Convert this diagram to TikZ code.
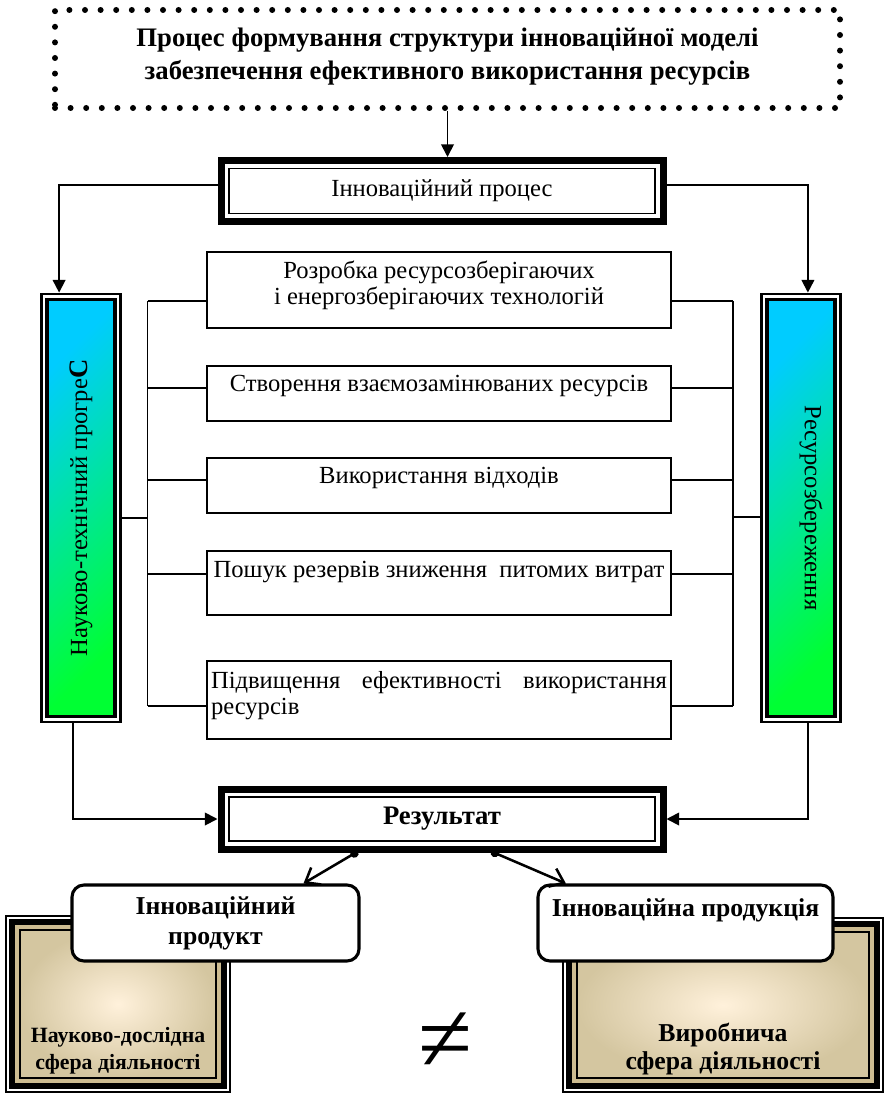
\documentclass[tikz,border=0pt]{standalone}
\usepackage{fontspec}
\setmainfont{Liberation Serif}
\usepackage{graphicx}
\usepackage{xcolor}
\usetikzlibrary{positioning,arrows.meta,fit}

\definecolor{ntpTop}{RGB}{0,204,255}
\definecolor{ntpBot}{RGB}{0,255,51}
\definecolor{sandIn}{RGB}{255,241,219}
\definecolor{sandOut}{RGB}{212,198,160}
\definecolor{sandBand}{RGB}{205,188,145}

\begin{document}
\begin{tikzpicture}[
>={Triangle[length=9pt,width=9pt]},
titlebox/.style={
draw,
line width=0.15cm,
line cap=round,
dash pattern=on 0pt off 0.39cm,
minimum width=19.625cm,
minimum height=2.45cm,
align=center,
font=\fontsize{19}{23.5}\selectfont\bfseries
},
framebox/.style={
draw,
line width=1pt,
fill=white,
outer sep=0pt,
minimum width=10.65cm,
align=center
},
heavyframe/.style={
draw,
line width=0.175cm,
inner sep=0.2cm
},
colbox/.style={
draw,
line width=2.2pt,
outer sep=0pt,
inner sep=0pt,
top color=ntpTop,
bottom color=ntpBot,
shading angle=45,
minimum width=1.7cm,
minimum height=10.425cm,
font=\fontsize{17.5}{18.5}\selectfont
},
colframe/.style={
draw,
line width=2pt,
inner sep=0.1375cm
},
midbox/.style={
draw,
line width=1pt,
fill=white,
minimum width=11.6cm,
inner ysep=2pt,
align=center,
font=\fontsize{17.5}{18.5}\selectfont
},
prodbox/.style={
draw,
line width=2.2pt,
rounded corners=0.3cm,
fill=white,
minimum height=1.9cm,
align=center,
font=\fontsize{18.3}{21.3}\selectfont\bfseries
},
sandbox/.style={
draw,
line width=1pt,
outer sep=0pt,
inner sep=0pt,
inner color=sandIn,
outer color=sandOut,
align=center
},
link/.style={line width=1.3pt},
arrow/.style={->,line width=1.3pt},
splitarrow/.style={
{Circle[length=6pt]}-{Straight Barb[length=9pt,width=14pt]},
line width=1.8pt
}
]

\useasboundingbox (0,0) rectangle (22.275,-27.375);

%---------------- Top ----------------%

\node[titlebox,text depth=7pt] (title) at (11.1875,-1.475)
{Процес формування структури інноваційної моделі\\
забезпечення ефективного використання ресурсів};

\node[framebox,minimum height=1.125cm,font=\fontsize{17.5}{18.5}\selectfont] (proc) at (11.05,-4.775)
{Інноваційний процес};
\node[heavyframe,fit=(proc)] (procf) {};

%---------------- Middle ----------------%

\node[colbox] (ntp) at (2.025,-12.7)
{\rotatebox{90}{Науково-технічний прогре{\fontsize{19}{19}\selectfont\bfseries С}}};
\node[colframe,fit=(ntp)] (ntpf) {};

\node[colbox] (rsb) at (20.025,-12.7)
{\hspace*{0.5cm}\rotatebox{-90}{Ресурсозбереження}};
\node[colframe,fit=(rsb)] (rsbf) {};

\node[midbox,minimum height=1.9cm,text depth=11pt] (b1) at (10.975,-7.25)
{Розробка ресурсозберігаючих\\і енергозберігаючих технологій};

\node[midbox,minimum height=1.375cm,text depth=14.5pt] (b2) at (10.975,-9.8375)
{Створення взаємозамінюваних ресурсів};

\node[midbox,minimum height=1.375cm,text depth=14.5pt] (b3) at (10.975,-12.1375)
{Використання відходів};

\node[midbox,minimum height=1.6cm,text depth=19.4pt] (b4) at (10.975,-14.575)
{Пошук резервів зниження \ питомих витрат};

\node[midbox,minimum height=1.95cm,text depth=28.7pt,align=justify,text width=11.4cm,inner xsep=0.1cm] (b5) at (10.975,-17.5)
{Підвищення ефективності використання ресурсів};

\coordinate (lbar) at (3.6875,0);
\coordinate (rbar) at (18.325,0);

%---------------- Bottom ----------------%

\node[framebox,minimum height=1.1cm,font=\fontsize{19}{20}\selectfont\bfseries] (result) at (11.05,-20.475)
{Результат};
\node[heavyframe,fit=(result)] (resultf) {};

\node[sandbox,minimum width=4.9cm,text height=99pt,text depth=6.3pt,font=\fontsize{15.5}{19}\selectfont\bfseries] (research) at (2.95,-25.1)
{Науково-дослідна\\сфера діяльності};
\draw[sandBand,line width=0.1cm] ([shift={(-0.075cm,-0.075cm)}]research.south west) rectangle ([shift={(0.075cm,0.075cm)}]research.north east);
\draw[line width=0.15cm] ([shift={(-0.2cm,-0.2cm)}]research.south west) rectangle ([shift={(0.2cm,0.2cm)}]research.north east);
\draw[line width=0.8pt] ([shift={(-0.35cm,-0.35cm)}]research.south west) rectangle ([shift={(0.35cm,0.35cm)}]research.north east);

\node[sandbox,minimum width=7.3cm,text height=97.5pt,text depth=6.3pt,font=\fontsize{18.3}{20}\selectfont\bfseries] (industry) at (18.075,-25.125)
{Виробнича\\сфера діяльності};
\draw[sandBand,line width=0.1cm] ([shift={(-0.075cm,-0.075cm)}]industry.south west) rectangle ([shift={(0.075cm,0.075cm)}]industry.north east);
\draw[line width=0.15cm] ([shift={(-0.2cm,-0.2cm)}]industry.south west) rectangle ([shift={(0.2cm,0.2cm)}]industry.north east);
\draw[line width=0.8pt] ([shift={(-0.35cm,-0.35cm)}]industry.south west) rectangle ([shift={(0.35cm,0.35cm)}]industry.north east);

\node[prodbox,minimum width=7.175cm] (product) at (5.3875,-23.075)
{Інноваційний\\продукт};

\node[prodbox,minimum width=7.375cm,text depth=22pt] (produce) at (17.1375,-23.075)
{Інноваційна продукція};

\node[font=\fontsize{70}{70}\selectfont] (neq) at (11.125,-26.05) {≠};

%---------------- Connections ----------------%

\draw[arrow] (title.south) -- (title.south |- procf.north);

\draw[arrow] ([yshift=0.15cm]procf.west) -| ([xshift=0.475cm]ntpf.north west);
\draw[arrow] ([yshift=0.15cm]procf.east) -| ([xshift=-0.85cm]rsbf.north east);

\draw[link] (b1.mid west) -- (b1.mid west -| lbar);
\draw[link] (b2.mid west) -- (b2.mid west -| lbar);
\draw[link] (b3.mid west) -- (b3.mid west -| lbar);
\draw[link] (b4.mid west) -- (b4.mid west -| lbar);
\draw[link] ([yshift=-0.525cm]b5.mid west) -- ([yshift=-0.525cm]b5.mid west -| lbar);
\draw[link] (b1.mid west -| lbar) -- ([yshift=-0.525cm]b5.mid west -| lbar);
\draw[link] ([yshift=-0.25cm]ntpf.east) -- ([yshift=-0.25cm]ntpf.east -| lbar);

\draw[link] (b1.mid east) -- (b1.mid east -| rbar);
\draw[link] (b2.mid east) -- (b2.mid east -| rbar);
\draw[link] (b3.mid east) -- (b3.mid east -| rbar);
\draw[link] (b4.mid east) -- (b4.mid east -| rbar);
\draw[link] ([yshift=-0.525cm]b5.mid east) -- ([yshift=-0.525cm]b5.mid east -| rbar);
\draw[link] (b1.mid east -| rbar) -- ([yshift=-0.525cm]b5.mid east -| rbar);
\draw[link] ([yshift=-0.225cm]rsbf.west) -- ([yshift=-0.225cm]rsbf.west -| rbar);

\draw[arrow] ([xshift=-0.2cm]ntpf.south) |- (resultf.west);
\draw[arrow] ([xshift=0.175cm]rsbf.south) |- (resultf.east);

\draw[splitarrow] ([xshift=-2.1cm,yshift=0.03cm]resultf.south) -- ([xshift=2.2cm]product.north);
\draw[splitarrow] ([xshift=1.225cm,yshift=0.03cm]resultf.south) -- ([xshift=-2.99cm]produce.north);

\end{tikzpicture}
\end{document}
